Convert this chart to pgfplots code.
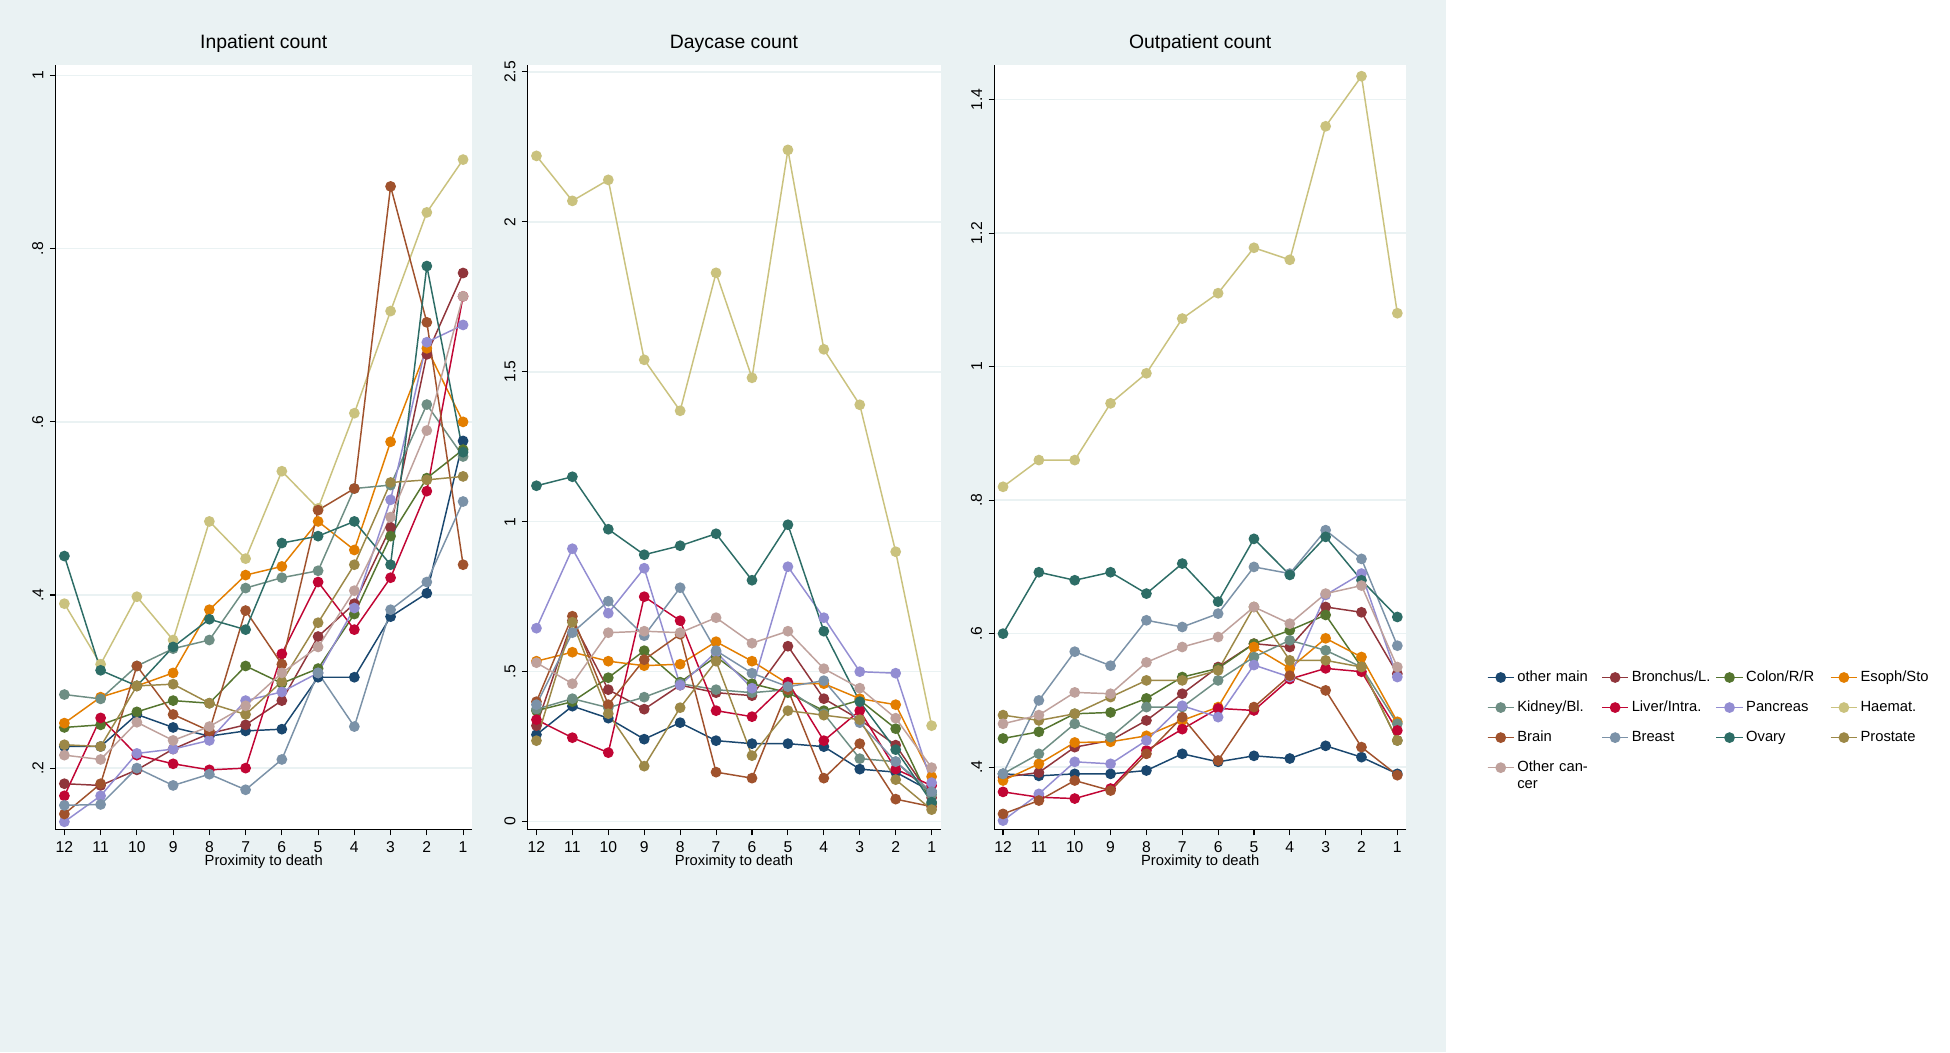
\documentclass[border=0pt]{standalone}
\usepackage{pgfplots}
\usepackage{pgfplotstable}
\pgfplotsset{compat=1.18}
\usepackage{fontspec}
\setmainfont{Liberation Sans}
\definecolor{bg}{HTML}{EAF2F3}
\definecolor{c1}{HTML}{1A476F}
\definecolor{c2}{HTML}{90353B}
\definecolor{c3}{HTML}{55752F}
\definecolor{c4}{HTML}{E37E00}
\definecolor{c5}{HTML}{6E8E84}
\definecolor{c6}{HTML}{C10534}
\definecolor{c7}{HTML}{938DD2}
\definecolor{c8}{HTML}{CAC27E}
\definecolor{c9}{HTML}{A0522D}
\definecolor{c10}{HTML}{7B92A8}
\definecolor{c11}{HTML}{2D6D66}
\definecolor{c12}{HTML}{9C8847}
\definecolor{c13}{HTML}{BFA19C}

\pgfplotstableread{
x om br co es ki li pa ha bn bs ov pr oc
12 .225 .182 .247 .252 .285 .168 .138 .39 .147 .157 .445 .227 .215
11 .225 .180 .250 .282 .280 .258 .168 .32 .182 .158 .313 .225 .210
10 .262 .198 .265 .295 .318 .215 .217 .398 .318 .200 .295 .295 .253
9 .247 .222 .278 .310 .338 .205 .222 .348 .262 .180 .340 .297 .232
8 .237 .240 .275 .383 .348 .198 .232 .485 .243 .193 .372 .275 .248
7 .243 .250 .318 .423 .408 .200 .278 .442 .382 .175 .360 .262 .272
6 .245 .278 .298 .433 .420 .332 .288 .543 .320 .210 .460 .300 .310
5 .305 .352 .315 .485 .428 .415 .310 .500 .498 .310 .468 .368 .340
4 .305 .390 .378 .452 .523 .360 .385 .610 .523 .248 .485 .435 .405
3 .375 .478 .468 .577 .527 .420 .510 .728 .872 .383 .435 .530 .490
2 .402 .678 .535 .685 .620 .520 .692 .842 .715 .415 .780 .533 .590
1 .578 .772 .568 .600 .560 .745 .712 .903 .435 .508 .565 .537 .745
}\tin
\pgfplotstableread{
x om br co es ki li pa ha bn bs ov pr oc
12 .29 .32 .37 .535 .375 .34 .645 2.22 .40 .39 1.12 .27 .53
11 .385 .67 .40 .565 .41 .28 .91 2.07 .685 .63 1.15 .665 .46
10 .345 .44 .48 .535 .38 .23 .695 2.14 .39 .735 .975 .36 .63
9 .275 .375 .57 .52 .415 .75 .845 1.54 .54 .62 .89 .185 .635
8 .33 .455 .465 .525 .46 .67 .455 1.37 .625 .78 .92 .38 .63
7 .27 .43 .55 .60 .44 .37 .565 1.83 .165 .57 .96 .535 .68
6 .26 .42 .46 .535 .43 .35 .445 1.48 .145 .495 .805 .22 .595
5 .26 .585 .43 .46 .44 .465 .85 2.24 .44 .45 .99 .37 .635
4 .25 .41 .37 .46 .36 .27 .68 1.575 .145 .47 .635 .355 .51
3 .175 .34 .405 .41 .21 .37 .50 1.39 .26 .33 .40 .34 .445
2 .165 .255 .31 .39 .20 .175 .495 .90 .075 .20 .24 .14 .345
1 .10 .08 .06 .15 .09 .12 .13 .32 .05 .10 .065 .04 .18
}\tday
\pgfplotstableread{
x om br co es ki li pa ha bn bs ov pr oc
12 .39 .385 .443 .38 .39 .363 .32 .82 .33 .39 .60 .478 .465
11 .387 .392 .453 .405 .42 .355 .36 .86 .35 .50 .692 .47 .478
10 .39 .43 .48 .437 .465 .353 .408 .86 .38 .573 .68 .48 .512
9 .39 .44 .482 .438 .445 .368 .405 .945 .365 .552 .692 .505 .51
8 .395 .47 .503 .447 .49 .425 .44 .99 .42 .62 .66 .53 .557
7 .42 .51 .535 .47 .49 .457 .492 1.072 .475 .61 .705 .53 .58
6 .408 .55 .548 .49 .53 .488 .475 1.11 .41 .63 .648 .545 .595
5 .417 .585 .585 .58 .565 .485 .553 1.178 .49 .70 .742 .64 .64
4 .413 .58 .605 .548 .59 .532 .535 1.16 .537 .69 .688 .56 .615
3 .432 .64 .628 .593 .575 .548 .658 1.36 .515 .755 .745 .56 .66
2 .415 .632 .55 .565 .55 .543 .69 1.435 .43 .712 .68 .55 .672
1 .39 .54 .44 .468 .465 .455 .535 1.08 .388 .582 .625 .44 .55
}\tout

\pgfplotsset{
  panel/.style={
    width=#1, height=415pt, scale only axis,
    axis background/.style={fill=white},
    x dir=reverse, xmin=0.75, xmax=12.25,
    xtick={1,...,12},
    axis x line*=bottom, axis y line*=left,
    tick align=outside, tick pos=left,
    major tick length=3pt,
    ymajorgrids, grid style={color=bg, line width=0.8pt},
    axis line style={line width=0.6pt},
    tick style={black, line width=0.6pt},
    ticklabel style={font=\fontsize{8.5}{10}\selectfont},
    yticklabel style={rotate=90},
    xlabel={Proximity to death},
    xlabel style={font=\fontsize{8}{9}\selectfont, yshift=6pt},
    title style={font=\fontsize{10.5}{12}\selectfont, yshift=-3pt},
    /pgf/number format/assume math mode=true,
    cycle list={
      {c1,mark=*},{c2,mark=*},{c3,mark=*},{c4,mark=*},{c5,mark=*},
      {c6,mark=*},{c7,mark=*},{c8,mark=*},{c9,mark=*},{c10,mark=*},
      {c11,mark=*},{c12,mark=*},{c13,mark=*}},
    every axis plot/.append style={line width=0.8pt, mark size=2.5pt},
  }
}
\newcommand\plotall[1]{%
  \foreach \s in {om,br,co,es,ki,li,pa,ha,bn,bs,ov,pr,oc}{%
    \addplot table[x=x,y=\s]{#1};}}

\begin{document}
\begin{tikzpicture}
\fill[bg] (0,0) rectangle (784pt,570.5pt);
\begin{axis}[panel=226pt, at={(30pt,120.5pt)}, anchor=south west,
  title={Inpatient count}, ymin=0.1286, ymax=1.0128,
  ytick={.2,.4,.6,.8,1}, yticklabels={.2,.4,.6,.8,1}]
\plotall{\tin}
\end{axis}
\begin{axis}[panel=224pt, at={(286pt,120.5pt)}, anchor=south west,
  title={Daycase count}, ymin=-0.0277, ymax=2.5246,
  ytick={0,.5,1,1.5,2,2.5}, yticklabels={0,.5,1,1.5,2,2.5},
  legend columns=4,
  legend style={at={(293pt,90pt)}, anchor=north west, draw=none, fill=none,
    font=\fontsize{8}{9}\selectfont,
    nodes={text width=44pt, align=left, inner sep=1.5pt},
    /tikz/every even column/.append style={column sep=0pt},
    row sep=6pt},
  legend cell align=left,
  legend image code/.code={\draw[#1] (0cm,0cm) -- (0.5cm,0cm); \draw[#1,mark repeat=2,mark phase=2] plot coordinates {(0cm,0cm) (0.25cm,0cm) (0.5cm,0cm)};}]
\plotall{\tday}
\legend{other main,Bronchus/L.,Colon/R/R,Esoph/Sto,Kidney/Bl.,Liver/Intra.,Pancreas,Haemat.,Brain,Breast,Ovary,Prostate,Other cancer}
\end{axis}
\begin{axis}[panel=223.5pt, at={(539pt,120.5pt)}, anchor=south west,
  title={Outpatient count}, ymin=0.306, ymax=1.4525,
  ytick={.4,.6,.8,1,1.2,1.4}, yticklabels={.4,.6,.8,1,1.2,1.4}]
\plotall{\tout}
\end{axis}
\end{tikzpicture}
\end{document}
